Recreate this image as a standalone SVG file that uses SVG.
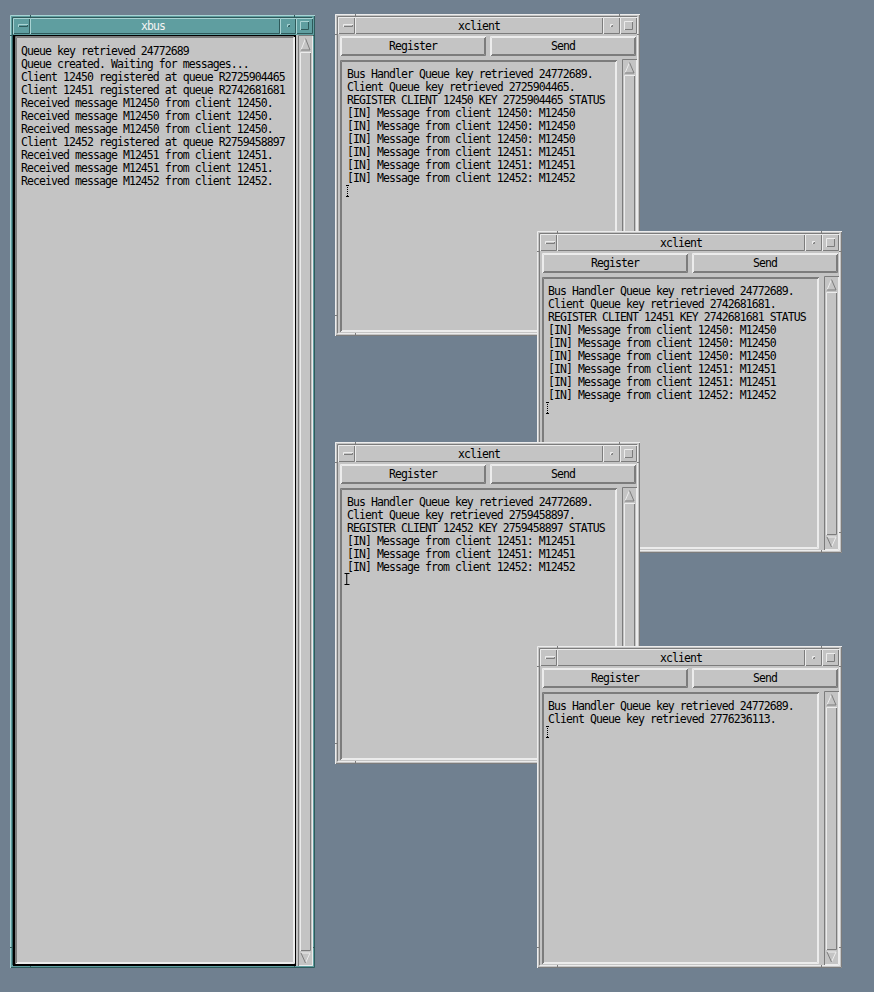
<svg xmlns="http://www.w3.org/2000/svg" xmlns:xlink="http://www.w3.org/1999/xlink" width="874" height="992" viewBox="0 0 874 992">
<style>
.face{fill:#c4c4c4}
.hl{fill:none;stroke:#ececec;stroke-width:1}
.sh{fill:none;stroke:#7c7c7c;stroke-width:1}
.thl{fill:none;stroke:#a9d3d3;stroke-width:1}
.tsh{fill:none;stroke:#2f5a5b;stroke-width:1}
.m{font-family:"DejaVu Sans Mono","Liberation Mono",monospace;font-size:11.5px;letter-spacing:-0.93px;fill:#000}
.ttl{text-anchor:middle}
.wt{fill:#f4f4f4}
.cur{stroke:#000;stroke-width:1;fill:none}
.dot{stroke-dasharray:1 1}
</style>
<defs>
 <g id="cframe">
  <rect width="305" height="322" class="face"/>
  <path class="hl" d="M0.5,322 V0.5 H305"/>
  <path class="sh" d="M1,321.5 H304.5 V1"/>
  <path class="sh" d="M2.5,319 V2.5 H302"/>
  <path class="hl" d="M3,319.5 H302.5 V3"/>
  <path class="sh" d="M20.5,0 v3 M284.5,0 v3 M20.5,319 v3 M284.5,319 v3 M0,20.5 h3 M302,20.5 h3 M0,301.5 h3 M302,301.5 h3"/>
  <path class="hl" d="M3.5,20 V3.5 H20 M20.5,20 V3.5 H268 M268.5,20 V3.5 H285 M285.5,20 V3.5 H302"/>
  <path class="sh" d="M4,19.5 H19.5 V4 M21,19.5 H267.5 V4 M269,19.5 H284.5 V4 M286,19.5 H301.5 V4"/>
  <path class="hl" d="M8.5,13 V10.5 H18 M275.5,13 V10.5 H278 M289.5,16 V7.5 H298"/>
  <path class="sh" d="M9,12.5 H17.5 V11 M276,12.5 H277.5 V11 M290,15.5 H297.5 V8"/>
  <path class="hl" d="M5.5,42 V22.5 H151 M6.5,41 V23.5 H150 M155.5,42 V22.5 H301 M156.5,41 V23.5 H300"/>
  <path class="sh" d="M6,41.5 H150.5 V23 M7,40.5 H149.5 V24 M156,41.5 H300.5 V23 M157,40.5 H299.5 V24"/>
  <path class="sh" d="M5.5,318 V46.5 H282 M6.5,317 V47.5 H281"/>
  <path class="hl" d="M6,317.5 H281.5 V47 M7,316.5 H280.5 V48"/>
  <path class="sh" d="M287.5,319 V45.5 H302"/>
  <path class="hl" d="M288,318.5 H301.5 V46"/>
  <polygon points="294.5,48.5 290,59 299,59" class="face"/>
  <path class="hl" d="M290,59 L294.5,48.5"/>
  <path class="sh" d="M294.5,48.5 L299,59 H290"/>
  <path class="hl" d="M289.5,304 V61.5 H300"/>
  <path class="sh" d="M290,303.5 H299.5 V62"/>
  <path class="hl" d="M290,306 H299 L294.5,316"/>
  <path class="sh" d="M294.5,316 L290,306"/>
  <text class="m ttl" x="144" y="16">xclient</text>
  <text class="m ttl" x="78" y="36">Register</text>
  <text class="m ttl" x="228" y="36">Send</text>
 </g>
</defs>
<rect width="874" height="992" fill="#708090"/>

<g id="xbus" transform="translate(10,15)">
 <rect width="305" height="953" fill="#5f9ea0"/>
 <path class="thl" d="M0.5,953 V0.5 H305"/>
 <path class="tsh" d="M1,952.5 H304.5 V1"/>
 <path class="tsh" d="M2.5,950 V2.5 H302"/>
 <path class="tsh" d="M20.5,0 v3 M284.5,0 v3 M20.5,950 v3 M284.5,950 v3 M0,20.5 h3 M302,20.5 h3 M0,932.5 h3 M302,932.5 h3"/>
 <path class="thl" d="M3.5,19 V3.5 H20 M20.5,19 V3.5 H270 M270.5,19 V3.5 H286 M286.5,19 V3.5 H303"/>
 <path class="tsh" d="M4,18.5 H19.5 V4 M21,18.5 H269.5 V4 M271,18.5 H285.5 V4 M287,18.5 H302.5 V4"/>
 <path class="thl" d="M8.5,12 V9.5 H18 M277.5,12 V9.5 H280 M290.5,15 V6.5 H299"/>
 <path class="tsh" d="M9,11.5 H17.5 V10 M278,11.5 H279.5 V10 M291,14.5 H298.5 V7"/>
 <text class="m ttl wt" x="143" y="15">xbus</text>
 <rect x="3" y="20" width="300" height="931" class="face"/>
 <rect x="4" y="21" width="281" height="929" fill="none" stroke="#000" stroke-width="2"/>
 <path class="sh" d="M5.5,949 V21.5 H284 M6.5,948 V22.5 H283"/>
 <path class="hl" d="M6,948.5 H284.5 V22 M7,947.5 H283.5 V23"/>
 <path class="sh" d="M288.5,951 V20.5 H303"/>
 <path class="hl" d="M289,950.5 H302.5 V21"/>
 <polygon points="295.5,23.5 291,35 300,35" class="face"/>
 <path class="hl" d="M291,35 L295.5,23.5"/>
 <path class="sh" d="M295.5,23.5 L300,35 H291"/>
 <path class="hl" d="M290.5,936 V37.5 H301"/>
 <path class="sh" d="M291,935.5 H300.5 V38"/>
 <path class="hl" d="M291,938 H300 L295.5,948"/>
 <path class="sh" d="M295.5,948 L291,938"/>
 <g class="m">
  <text x="11" y="40">Queue key retrieved 24772689</text>
  <text x="11" y="53">Queue created. Waiting for messages...</text>
  <text x="11" y="66">Client 12450 registered at queue R2725904465</text>
  <text x="11" y="79">Client 12451 registered at queue R2742681681</text>
  <text x="11" y="92">Received message M12450 from client 12450.</text>
  <text x="11" y="105">Received message M12450 from client 12450.</text>
  <text x="11" y="118">Received message M12450 from client 12450.</text>
  <text x="11" y="131">Client 12452 registered at queue R2759458897</text>
  <text x="11" y="144">Received message M12451 from client 12451.</text>
  <text x="11" y="157">Received message M12451 from client 12451.</text>
  <text x="11" y="170">Received message M12452 from client 12452.</text>
 </g>
</g>

<g id="xclient1" transform="translate(335,14)">
 <use xlink:href="#cframe" href="#cframe"/>
 <g class="m">
  <text x="12" y="64">Bus Handler Queue key retrieved 24772689.</text>
  <text x="12" y="77">Client Queue key retrieved 2725904465.</text>
  <text x="12" y="90">REGISTER CLIENT 12450 KEY 2725904465 STATUS</text>
  <text x="12" y="103">[IN] Message from client 12450: M12450</text>
  <text x="12" y="116">[IN] Message from client 12450: M12450</text>
  <text x="12" y="129">[IN] Message from client 12450: M12450</text>
  <text x="12" y="142">[IN] Message from client 12451: M12451</text>
  <text x="12" y="155">[IN] Message from client 12451: M12451</text>
  <text x="12" y="168">[IN] Message from client 12452: M12452</text>
 </g>
 <path class="cur dot" d="M12.5,171 V183"/>
 <path class="cur" d="M11,171.5 h3 M11,182.5 h3"/>
</g>

<g id="xclient2" transform="translate(537,231)">
 <use xlink:href="#cframe" href="#cframe"/>
 <g class="m">
  <text x="11" y="64">Bus Handler Queue key retrieved 24772689.</text>
  <text x="11" y="77">Client Queue key retrieved 2742681681.</text>
  <text x="11" y="90">REGISTER CLIENT 12451 KEY 2742681681 STATUS</text>
  <text x="11" y="103">[IN] Message from client 12450: M12450</text>
  <text x="11" y="116">[IN] Message from client 12450: M12450</text>
  <text x="11" y="129">[IN] Message from client 12450: M12450</text>
  <text x="11" y="142">[IN] Message from client 12451: M12451</text>
  <text x="11" y="155">[IN] Message from client 12451: M12451</text>
  <text x="11" y="168">[IN] Message from client 12452: M12452</text>
 </g>
 <path class="cur dot" d="M10.5,171 V183"/>
 <path class="cur" d="M9,171.5 h3 M9,182.5 h3"/>
</g>

<g id="xclient3" transform="translate(335,442)">
 <use xlink:href="#cframe" href="#cframe"/>
 <g class="m">
  <text x="12" y="64">Bus Handler Queue key retrieved 24772689.</text>
  <text x="12" y="77">Client Queue key retrieved 2759458897.</text>
  <text x="12" y="90">REGISTER CLIENT 12452 KEY 2759458897 STATUS</text>
  <text x="12" y="103">[IN] Message from client 12451: M12451</text>
  <text x="12" y="116">[IN] Message from client 12451: M12451</text>
  <text x="12" y="129">[IN] Message from client 12452: M12452</text>
 </g>
 <path class="cur" stroke-width="1.5" d="M11.75,131 V143"/>
 <path class="cur" d="M9.5,131.5 h5 M9.5,142.5 h5"/>
</g>

<g id="xclient4" transform="translate(537,646)">
 <use xlink:href="#cframe" href="#cframe"/>
 <g class="m">
  <text x="11" y="64">Bus Handler Queue key retrieved 24772689.</text>
  <text x="11" y="77">Client Queue key retrieved 2776236113.</text>
 </g>
 <path class="cur dot" d="M10.5,80 V92"/>
 <path class="cur" d="M9,80.5 h3 M9,91.5 h3"/>
</g>
<g id="connectors"/>
</svg>
